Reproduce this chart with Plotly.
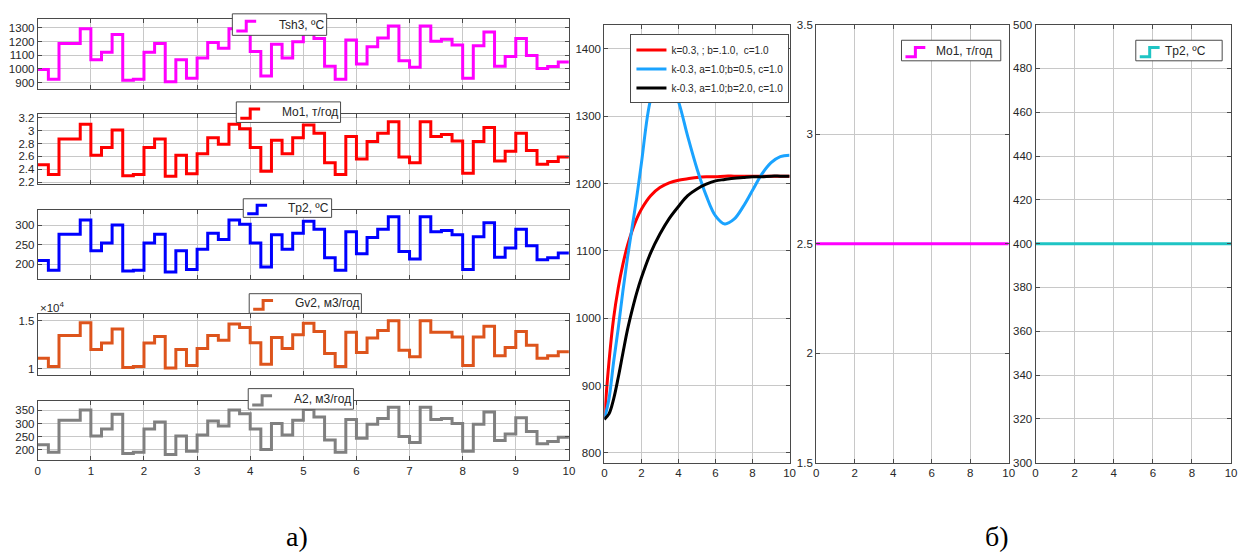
import numpy as np
import plotly.graph_objects as go

W, H = 1251, 560

# ---- step signals, one value per 0.2 h interval over 0..10 h ----
step_t = np.round(np.arange(0, 10.0001, 0.2), 1)

tsh3 = [995, 924, 1186, 1186, 1293, 1067, 1121, 1250, 917, 924,
        1121, 1186, 907, 1067, 931, 1079, 1193, 1150, 1293, 1265,
        1126, 948, 1179, 1079, 1198, 1290, 1221, 1019, 924, 1210,
        1036, 1162, 1226, 1312, 1060, 1012, 1312, 1202, 1217, 1174,
        931, 1169, 1269, 1019, 1090, 1221, 1098, 1002, 1017, 1050]

mo1 = [2.47, 2.32, 2.87, 2.87, 3.10, 2.62, 2.74, 3.01, 2.30, 2.32,
       2.74, 2.87, 2.29, 2.62, 2.33, 2.64, 2.89, 2.79, 3.10, 3.03,
       2.74, 2.37, 2.85, 2.64, 2.89, 3.09, 2.96, 2.50, 2.32, 2.91,
       2.56, 2.83, 2.96, 3.14, 2.59, 2.50, 3.14, 2.91, 2.94, 2.84,
       2.34, 2.83, 3.05, 2.53, 2.68, 2.96, 2.69, 2.48, 2.52, 2.59]

tp2 = [210, 185, 277, 277, 314, 235, 255, 301, 183, 185,
       255, 277, 180, 235, 187, 239, 280, 264, 314, 303,
       255, 193, 276, 239, 280, 311, 290, 217, 185, 284,
       227, 269, 290, 322, 233, 214, 322, 284, 287, 276,
       187, 271, 307, 218, 242, 290, 248, 212, 217, 229]

gv2 = [11090, 10240, 13470, 13470, 14800, 12010, 12690, 14150, 10140, 10240,
       12690, 13370, 10070, 12010, 10340, 12110, 13470, 12960, 14660, 14290,
       12720, 10480, 13270, 12110, 13540, 14730, 13880, 11600, 10240, 13810,
       11700, 13200, 13980, 15000, 11940, 11260, 15000, 13810, 13810, 13300,
       10340, 13300, 14420, 11360, 12210, 13880, 12450, 11090, 11360, 11770]

a2 = [219, 190, 312, 312, 352, 252, 279, 335, 185, 190,
      279, 306, 181, 252, 194, 256, 310, 290, 352, 337,
      279, 200, 300, 256, 312, 354, 325, 237, 190, 315,
      244, 297, 319, 362, 250, 227, 362, 315, 319, 300,
      194, 297, 344, 235, 260, 322, 269, 222, 231, 247]

# ---- transient responses of Tsh3 ----
resp_t = [0, 0.25, 0.5, 0.75, 1, 1.25, 1.5, 1.75, 2, 2.5, 3, 3.5, 4,
          4.5, 5, 5.5, 6, 6.5, 7, 7.5, 8, 8.5, 9, 9.5, 10]
resp_b1 = [850, 935, 1000, 1045, 1080, 1108, 1130, 1148, 1162, 1182, 1194, 1201, 1205,
           1207, 1209, 1210, 1210, 1211, 1211, 1211, 1211, 1211, 1211, 1211, 1211]
resp_b05 = [850, 880, 935, 985, 1040, 1090, 1135, 1180, 1230, 1325, 1360, 1356, 1322,
            1270, 1222, 1182, 1152, 1140, 1147, 1166, 1190, 1214, 1231, 1240, 1242]
resp_b2 = [850, 858, 880, 912, 948, 983, 1012, 1038, 1060, 1097, 1125, 1148, 1166,
           1182, 1192, 1199, 1204, 1206, 1208, 1209, 1210, 1210, 1211, 1211, 1211]
resp_names = ["k=0.3, ; b=.1.0,  c=1.0",
              "k-0.3, a=1.0;b=0.5, c=1.0",
              "k-0.3, a=1.0;b=2.0, c=1.0"]

# ---- constant set-points ----
const_t = [0, 10]
mo1_set = [2.5, 2.5]
tp2_set = [400, 400]

FONT = "Liberation Sans Narrow, Arial Narrow, Liberation Sans, Arial, sans-serif"
FRAME = "#4a4a4a"
GRID = "#c8c8c8"
TXT = "#262626"


def px(x):
    return x / W


def py(y):
    return 1 - y / H


def axis(**kw):
    base = dict(showline=True, linecolor=FRAME, linewidth=1, mirror="ticks",
                ticks="inside", ticklen=4, tickcolor=FRAME, showgrid=True,
                gridcolor=GRID, gridwidth=1, zeroline=False,
                tickfont=dict(family=FONT, size=11.5, color=TXT))
    base.update(kw)
    return base


fig = go.Figure()

# left stacked step panels: (values, colour, y-range, ticks, top px, bottom px, legend)
panels = [
    (tsh3, "#ff00ff", [852, 1366], dict(tickvals=[900, 1000, 1100, 1200, 1300]), 13, 85,
     (231, 8, 326, 30), 301, "Tsh3, ºC"),
    (mo1, "#ff0000", [2.165, 3.265],
     dict(tickvals=[2.2, 2.4, 2.6, 2.8, 3.0, 3.2], ticktext=["2.2", "2.4", "2.6", "2.8", "3", "3.2"]),
     110, 182.3, (235, 98, 340, 119), 309, "Mo1, т/год"),
    (tp2, "#0000ff", [161.5, 340], dict(tickvals=[200, 250, 300]), 208.3, 279.3,
     (242, 197, 331, 216), 307.5, "Tp2, ºC"),
    (gv2, "#dd541c", [9390, 15680], dict(tickvals=[10000, 15000], ticktext=["1", "1.5"]), 315, 376.7,
     (248, 294, 361, 314), 326.5, "Gv2, м3/год"),
    (a2, "#808080", [160, 387.5], dict(tickvals=[200, 250, 300, 350]), 403.3, 464,
     (247, 391, 353, 412), 321.5, "A2, м3/год"),
]

shapes = []
annotations = []
layout = {}


def step_legend(box, cx, text, colour):
    l, t, r, b = box
    shapes.append(dict(type="rect", xref="paper", yref="paper", x0=px(l), x1=px(r),
                       y0=py(b), y1=py(t), fillcolor="white",
                       line=dict(color=FRAME, width=1), layer="above"))
    ylo = t + (b - t) * 0.80
    yhi = t + (b - t) * 0.35
    x0, x1, x2 = l + 4, l + 14, l + 24
    shapes.append(dict(type="path", xref="paper", yref="paper",
                       path=f"M {px(x0)},{py(ylo)} L {px(x1)},{py(ylo)} L {px(x1)},{py(yhi)} L {px(x2)},{py(yhi)}",
                       line=dict(color=colour, width=3), layer="above"))
    annotations.append(dict(xref="paper", yref="paper", x=px(cx), y=py((t + b) / 2),
                            text=text, showarrow=False, xanchor="center", yanchor="middle",
                            font=dict(family=FONT, size=12, color=TXT)))


for i, (vals, col, yr, yt, top, bot, box, cx, name) in enumerate(panels, start=1):
    xa = "x" if i == 1 else f"x{i}"
    ya = "y" if i == 1 else f"y{i}"
    fig.add_trace(go.Scatter(x=step_t, y=list(vals) + [vals[-1]], mode="lines",
                             line=dict(color=col, width=3, shape="hv"),
                             xaxis=xa, yaxis=ya, showlegend=False))
    layout["xaxis" if i == 1 else f"xaxis{i}"] = axis(
        domain=[px(35), px(570)], anchor=ya, range=[0, 10], dtick=1,
        showticklabels=(i == 5))
    layout["yaxis" if i == 1 else f"yaxis{i}"] = axis(
        domain=[py(bot), py(top)], anchor=xa, range=yr, **yt)
    step_legend(box, cx, name, col)

annotations.append(dict(xref="paper", yref="paper", x=px(35), y=py(308),
                        text="×10<sup>4</sup>", showarrow=False, xanchor="left",
                        yanchor="middle", font=dict(family=FONT, size=11.5, color=TXT)))

# middle panel: transient responses
for vals, col, name in zip([resp_b1, resp_b05, resp_b2],
                           ["#ff0000", "#1aa3ff", "#000000"], resp_names):
    fig.add_trace(go.Scatter(x=resp_t, y=vals, mode="lines", name=name,
                             line=dict(color=col, width=3, shape="spline", smoothing=1.0),
                             xaxis="x6", yaxis="y6", showlegend=True))
layout["xaxis6"] = axis(domain=[px(605.7), px(792.3)], anchor="y6", range=[0, 10],
                        tickvals=[0, 2, 4, 6, 8, 10])
layout["yaxis6"] = axis(domain=[py(466.7), py(19)], anchor="x6", range=[785.5, 1436],
                        tickvals=[800, 900, 1000, 1100, 1200, 1300, 1400])

# right panels: set-points
fig.add_trace(go.Scatter(x=const_t, y=mo1_set, mode="lines",
                         line=dict(color="#ff00ff", width=3), xaxis="x7", yaxis="y7",
                         showlegend=False))
layout["xaxis7"] = axis(domain=[px(819), px(1013)], anchor="y7", range=[0, 10],
                        tickvals=[0, 2, 4, 6, 8, 10])
layout["yaxis7"] = axis(domain=[py(466.7), py(19)], anchor="x7", range=[1.5, 3.5],
                        tickvals=[1.5, 2, 2.5, 3, 3.5], ticktext=["1.5", "2", "2.5", "3", "3.5"])
step_legend((905, 35, 1005, 56), 968, "Mo1, т/год", "#ff00ff")

fig.add_trace(go.Scatter(x=const_t, y=tp2_set, mode="lines",
                         line=dict(color="#1fc4c4", width=3), xaxis="x8", yaxis="y8",
                         showlegend=False))
layout["xaxis8"] = axis(domain=[px(1040), px(1237)], anchor="y8", range=[0, 10],
                        tickvals=[0, 2, 4, 6, 8, 10])
layout["yaxis8"] = axis(domain=[py(466.7), py(19)], anchor="x8", range=[300, 500],
                        tickvals=list(range(300, 501, 20)))
step_legend((1141, 35, 1228, 56), 1191, "Tp2, ºC", "#1fc4c4")

# sub-figure captions
annotations.append(dict(xref="paper", yref="paper", x=px(296), y=py(542), text="а)",
                        showarrow=False, xanchor="center", yanchor="middle",
                        font=dict(family="Liberation Serif, Times New Roman, serif", size=28, color="black")))
annotations.append(dict(xref="paper", yref="paper", x=px(1001), y=py(542), text="б)",
                        showarrow=False, xanchor="center", yanchor="middle",
                        font=dict(family="Liberation Serif, Times New Roman, serif", size=28, color="black")))

fig.update_layout(
    width=W, height=H, margin=dict(l=0, r=0, t=0, b=0),
    paper_bgcolor="white", plot_bgcolor="white",
    shapes=shapes, annotations=annotations,
    legend=dict(x=px(632), y=py(29), xanchor="left", yanchor="top",
                bgcolor="white", bordercolor=FRAME, borderwidth=1,
                font=dict(family=FONT, size=10, color=TXT),
                tracegroupgap=0, itemwidth=30),
    **layout,
)

fig.write_html("out.html")
